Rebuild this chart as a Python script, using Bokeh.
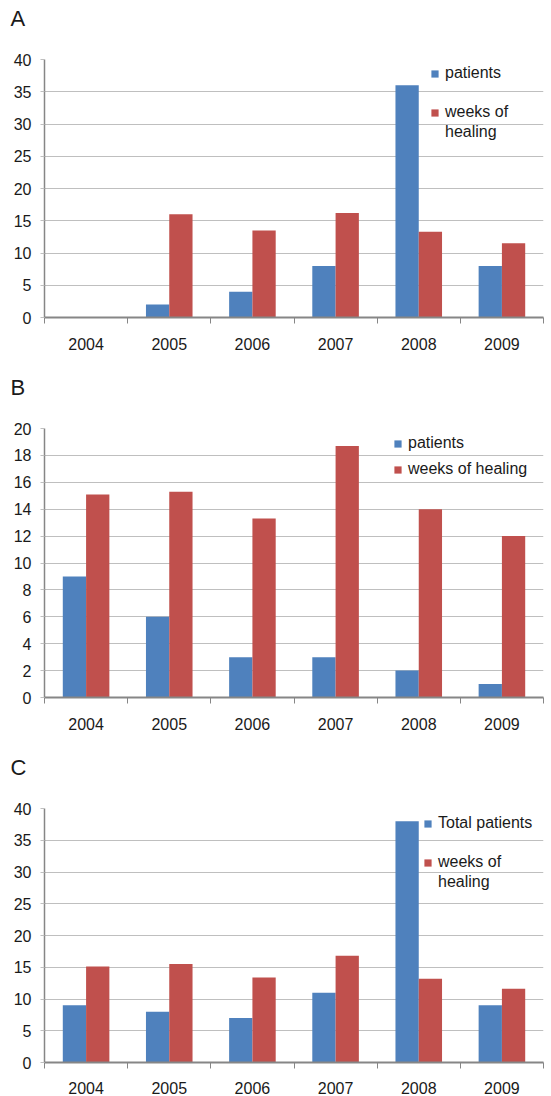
from bokeh.plotting import figure
from bokeh.models import ColumnDataSource, FixedTicker, Legend, LegendItem, Title, Range1d
from bokeh.layouts import column
from bokeh.embed import file_html
from bokeh.resources import INLINE
from bokeh.transform import dodge

years = ["2004", "2005", "2006", "2007", "2008", "2009"]

a_patients = [0, 2, 4, 8, 36, 8]
a_weeks = [0, 16, 13.5, 16.2, 13.3, 11.5]

b_patients = [9, 6, 3, 3, 2, 1]
b_weeks = [15.1, 15.3, 13.3, 18.7, 14.0, 12.0]

c_patients = [9, 8, 7, 11, 38, 9]
c_weeks = [15.1, 15.5, 13.4, 16.8, 13.2, 11.6]

FONT = "Liberation Sans"
BLUE = "#4F81BD"
RED = "#C0504D"
GRID = "#BFBFBF"
AXIS = "#868686"
TXT = "#1a1a1a"
W = 551
LEFT = 44
RIGHT = 8


def make_legend(items, loc, spacing):
    return Legend(items=items, location=loc, border_line_color=None,
                  background_fill_alpha=0, padding=0, margin=0,
                  glyph_width=9, glyph_height=9, label_standoff=6,
                  spacing=spacing, label_height=20,
                  label_text_font=FONT, label_text_font_size="16px",
                  label_text_color=TXT)


def panel(letter, patients, weeks, ymax, ystep, height, top, bottom, xstandoff):
    centers = list(range(len(years)))
    x0, x1 = -0.5, len(years) - 0.5
    src = ColumnDataSource(dict(x=centers, patients=patients, weeks=weeks))
    p = figure(width=W, height=height, output_backend="svg", toolbar_location=None,
               x_range=Range1d(x0, x1), y_range=Range1d(0, ymax),
               min_border_left=LEFT, min_border_right=RIGHT,
               min_border_top=top, min_border_bottom=bottom)
    p.outline_line_color = None
    p.background_fill_color = "white"
    p.border_fill_color = "white"
    frame_h = height - top - bottom

    # trailing empty line lifts the panel letter to the top of the border area
    p.title = Title(text=letter + "\n", align="left", offset=-34, standoff=2,
                    text_font=FONT, text_font_size="22px", text_font_style="normal",
                    text_line_height=1.1, text_color=TXT)

    r1 = p.vbar(x=dodge("x", -0.14, range=p.x_range), top="patients", width=0.28,
                source=src, fill_color=BLUE, line_color=None)
    r2 = p.vbar(x=dodge("x", 0.14, range=p.x_range), top="weeks", width=0.28,
                source=src, fill_color=RED, line_color=None)
    # invisible companion renderer used only for a second legend text line
    r0 = p.vbar(x="x", top=0, width=0.01, source=src, fill_alpha=0, line_alpha=0)

    p.xgrid.visible = False
    p.ygrid.grid_line_color = GRID
    p.ygrid.grid_line_width = 1

    ya = p.yaxis[0]
    ya.ticker = FixedTicker(ticks=list(range(0, ymax + 1, ystep)))
    ya.axis_line_color = AXIS
    ya.axis_line_width = 1.5
    ya.major_tick_out = 4
    ya.major_tick_in = 0
    ya.major_tick_line_color = GRID
    ya.minor_tick_line_color = None
    ya.major_label_standoff = 9
    ya.major_label_text_font = FONT
    ya.major_label_text_font_size = "16px"
    ya.major_label_text_color = TXT

    xa = p.xaxis[0]
    xa.ticker = FixedTicker(ticks=centers,
                            minor_ticks=[c - 0.5 for c in centers] + [centers[-1] + 0.5])
    xa.major_label_overrides = {c: y for c, y in zip(centers, years)}
    xa.axis_line_color = AXIS
    xa.axis_line_width = 2
    xa.major_tick_out = 0
    xa.major_tick_in = 0
    xa.minor_tick_out = 6
    xa.minor_tick_in = 0
    xa.minor_tick_line_color = AXIS
    xa.minor_tick_line_width = 1
    xa.major_label_standoff = xstandoff
    xa.major_label_text_font = FONT
    xa.major_label_text_font_size = "16px"
    xa.major_label_text_color = TXT
    return p, r1, r2, r0, frame_h


pa, a1, a2, a0, ha = panel("A", a_patients, a_weeks, 40, 5, 370, 59, 53, 14)
pa.add_layout(make_legend([LegendItem(label="patients", renderers=[a1])], (386, ha - 24), 0))
pa.add_layout(make_legend([LegendItem(label="weeks of", renderers=[a2]),
                           LegendItem(label="healing", renderers=[a0])], (386, ha - 83), 0))

pb, b1, b2, b0, hb = panel("B", b_patients, b_weeks, 20, 2, 381, 58, 54, 14)
pb.add_layout(make_legend([LegendItem(label="patients", renderers=[b1]),
                           LegendItem(label="weeks of healing", renderers=[b2])],
                          (349, hb - 51), 6))

pc, c1, c2, c0, hc = panel("C", c_patients, c_weeks, 40, 5, 345, 57, 32, 13)
pc.add_layout(make_legend([LegendItem(label="Total patients", renderers=[c1])], (379, hc - 27), 0))
pc.add_layout(make_legend([LegendItem(label="weeks of", renderers=[c2]),
                           LegendItem(label="healing", renderers=[c0])], (379, hc - 86), 0))

layout = column(pa, pb, pc, spacing=0)
open("out.html", "w").write(file_html(layout, INLINE))
